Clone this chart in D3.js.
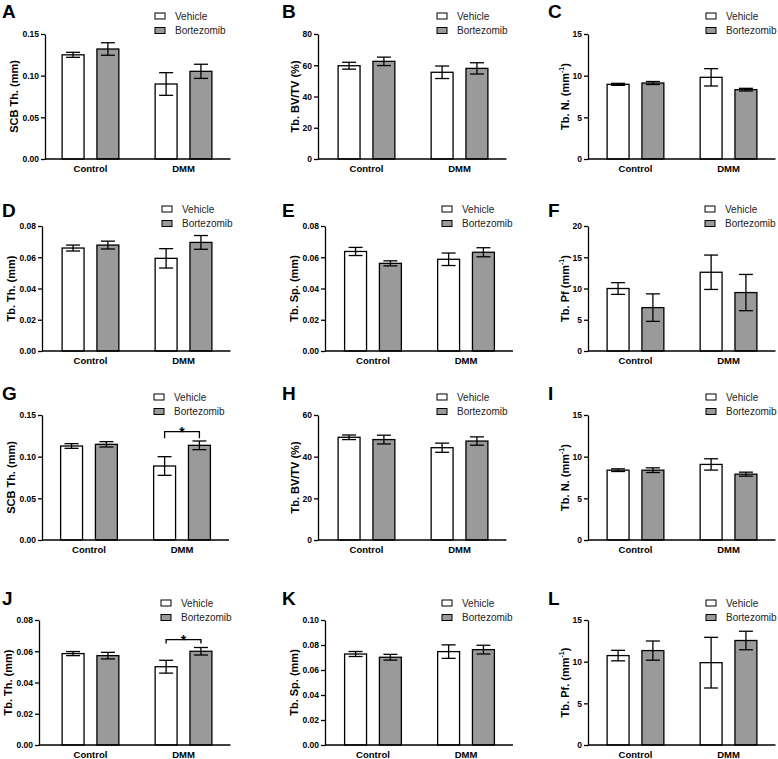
<!DOCTYPE html>
<html>
<head>
<meta charset="utf-8">
<script src="https://cdn.jsdelivr.net/npm/d3@7"></script>
<style>
  body { margin: 0; background: #fff; }
  svg { display: block; font-family: "Liberation Sans", Arial, sans-serif; }
</style>
</head>
<body>
<svg id="chart" width="778" height="759"></svg>
<script>
// data (mean and error bar half-length, [Control, DMM])
var groups = ["Control", "DMM"];
var treatments = ["Vehicle", "Bortezomib"];
var panelLetters = ["A", "B", "C", "D", "E", "F", "G", "H", "I", "J", "K", "L"];
var yLabels = [
  ["SCB Th. (mm)"], ["Tb. BV/TV (%)"], ["Tb. N. (mm", "-1", ")"],
  ["Tb. Th. (mm)"], ["Tb. Sp. (mm)"], ["Tb. Pf (mm", "-1", ")"],
  ["SCB Th. (mm)"], ["Tb. BV/TV (%)"], ["Tb. N. (mm", "-1", ")"],
  ["Tb. Th. (mm)"], ["Tb. Sp. (mm)"], ["Tb. Pf. (mm", "-1", ")"]
];
var yMax = [0.15, 80, 15, 0.08, 0.08, 20, 0.15, 60, 15, 0.08, 0.10, 15];
var yStep = [0.05, 20, 5, 0.02, 0.02, 5, 0.05, 20, 5, 0.02, 0.02, 5];
var yDigits = [2, 0, 0, 2, 2, 0, 2, 0, 0, 2, 2, 0];

var vehicleMeans = [
  [0.125, 0.090], [59.7, 55.5], [8.96, 9.8],
  [0.0659, 0.0593], [0.0637, 0.0587], [10.0, 12.6],
  [0.1128, 0.0888], [49.3, 44.3], [8.38, 9.07],
  [0.0585, 0.0501], [0.0728, 0.0747], [10.73, 9.88]
];
var vehicleErrors = [
  [0.003, 0.0136], [2.2, 4.0], [0.12, 1.04],
  [0.0019, 0.0062], [0.0026, 0.004], [0.94, 2.75],
  [0.0028, 0.0112], [1.1, 2.2], [0.16, 0.68],
  [0.0013, 0.0041], [0.002, 0.0054], [0.63, 3.04]
];
var bortezomibMeans = [
  [0.132, 0.1052], [62.5, 58.0], [9.12, 8.32],
  [0.0678, 0.0695], [0.0561, 0.0632], [6.94, 9.35],
  [0.1148, 0.1136], [48.2, 47.5], [8.38, 7.9],
  [0.0572, 0.060], [0.0702, 0.0763], [11.33, 12.54]
];
var bortezomibErrors = [
  [0.0075, 0.0085], [2.7, 3.6], [0.18, 0.16],
  [0.0025, 0.0044], [0.0016, 0.0029], [2.2, 2.9],
  [0.0032, 0.0052], [2.1, 2.0], [0.28, 0.24],
  [0.0021, 0.0024], [0.0023, 0.0035], [1.15, 1.11]
];
// significance brackets: panel, group, bracket top value, leg bottom value
var sigPanels = ["G", "J"];
var sigGroups = ["DMM", "DMM"];
var sigTop = [0.13, 0.0675];
var sigLeg = [0.122, 0.065];
var sigLabels = ["*", "*"];

// layout
var rowTop = [34, 226, 415, 620];
var plotHeight = 125;
var plotWidth = 187;
var axisLeft = [45, 318, 588, 42, 325, 588, 42, 318, 588, 39, 325, 588];
var plotLeft = [43.5, 319.5, 588.5, 43.5, 326, 588.5, 42, 319.5, 588.5, 43.5, 326, 588.5];
var letterX = [2, 282, 548];
var letterY = [18, 217, 400, 605];
var legendX = [155, 437, 706, 162, 442, 705, 154, 437, 706, 161, 442, 706];
var legendY = [16, 209, 397, 603];
var fills = {"Vehicle": "#ffffff", "Bortezomib": "#9a9a9a"};

var svg = d3.select("#chart");

panelLetters.forEach(function(letter, i) {
  var row = Math.floor(i / 3), col = i % 3;
  var top = rowTop[row], bottom = top + plotHeight;
  var g = svg.append("g").attr("class", "panel-" + letter);

  var y = d3.scaleLinear().domain([0, yMax[i]]).range([bottom, top]);
  var x0 = d3.scaleBand().domain(groups)
    .range([plotLeft[i], plotLeft[i] + plotWidth])
    .paddingInner(0.39).paddingOuter(0.2);
  var x1 = d3.scaleBand().domain(treatments)
    .range([0, x0.bandwidth()]).paddingInner(0.37);

  // bars
  var rows = [];
  groups.forEach(function(grp, gi) {
    rows.push({group: grp, treatment: "Vehicle", mean: vehicleMeans[i][gi], err: vehicleErrors[i][gi]});
    rows.push({group: grp, treatment: "Bortezomib", mean: bortezomibMeans[i][gi], err: bortezomibErrors[i][gi]});
  });
  rows.forEach(function(d) { d.cx = x0(d.group) + x1(d.treatment) + x1.bandwidth() / 2; });

  g.selectAll("rect.bar").data(rows).enter().append("rect")
    .attr("class", "bar")
    .attr("x", function(d) { return x0(d.group) + x1(d.treatment); })
    .attr("y", function(d) { return y(d.mean); })
    .attr("width", x1.bandwidth())
    .attr("height", function(d) { return y(0) - y(d.mean); })
    .attr("fill", function(d) { return fills[d.treatment]; })
    .attr("stroke", "#000").attr("stroke-width", 1.3);

  // error bars
  var eb = g.selectAll("g.err").data(rows).enter().append("g").attr("class", "err")
    .attr("stroke", "#000").attr("stroke-width", 1.3);
  eb.append("line")
    .attr("x1", function(d) { return d.cx; }).attr("x2", function(d) { return d.cx; })
    .attr("y1", function(d) { return y(d.mean - d.err); })
    .attr("y2", function(d) { return y(d.mean + d.err); });
  [-1, 1].forEach(function(s) {
    eb.append("line")
      .attr("x1", function(d) { return d.cx - 7; }).attr("x2", function(d) { return d.cx + 7; })
      .attr("y1", function(d) { return y(d.mean + s * d.err); })
      .attr("y2", function(d) { return y(d.mean + s * d.err); });
  });

  // y axis
  var ticks = d3.range(0, yMax[i] + yStep[i] / 2, yStep[i]);
  var yAxis = g.append("g").attr("transform", "translate(" + axisLeft[i] + ",0)")
    .call(d3.axisLeft(y).tickValues(ticks).tickSize(4).tickSizeOuter(0).tickPadding(2)
      .tickFormat(d3.format("." + yDigits[i] + "f")));
  yAxis.select(".domain").attr("stroke-width", 1.3);
  yAxis.selectAll(".tick line").attr("stroke-width", 1.3);
  yAxis.selectAll(".tick text").attr("font-size", 8.5).attr("font-weight", "bold")
    .attr("font-family", null).attr("fill", "#000").attr("dy", "0.34em");

  var minX = axisLeft[i];
  yAxis.selectAll(".tick text").each(function() {
    var b = this.getBBox();
    minX = Math.min(minX, axisLeft[i] + b.x);
  });

  // x axis line and category labels
  g.append("line")
    .attr("x1", axisLeft[i]).attr("x2", plotLeft[i] + plotWidth)
    .attr("y1", bottom).attr("y2", bottom)
    .attr("stroke", "#000").attr("stroke-width", 1.3);
  g.selectAll("text.cat").data(groups).enter().append("text")
    .attr("class", "cat")
    .attr("x", function(d) { return x0(d) + x0.bandwidth() / 2; })
    .attr("y", bottom + 12.5)
    .attr("text-anchor", "middle").attr("font-size", 9.5).attr("font-weight", "bold")
    .text(function(d) { return d; });

  // y label
  var lab = g.append("text")
    .attr("transform", "translate(" + (minX - 4) + "," + ((top + bottom) / 2) + ") rotate(-90)")
    .attr("text-anchor", "middle").attr("font-size", 11).attr("font-weight", "bold");
  var parts = yLabels[i];
  lab.append("tspan").text(parts[0]);
  if (parts.length > 1) {
    lab.append("tspan").attr("font-size", 7).attr("dy", -4.5).text(parts[1]);
    lab.append("tspan").attr("dy", 4.5).text(parts[2]);
  }

  // panel letter
  g.append("text").attr("x", letterX[col]).attr("y", letterY[row])
    .attr("font-size", 19).attr("font-weight", "bold").text(letter);

  // legend
  treatments.forEach(function(t, ti) {
    var ly = legendY[row] + ti * 14.5;
    g.append("rect").attr("x", legendX[i]).attr("y", ly - 3).attr("width", 10).attr("height", 6)
      .attr("fill", fills[t]).attr("stroke", "#000").attr("stroke-width", 1);
    g.append("text").attr("x", legendX[i] + 20).attr("y", ly + 3.6)
      .attr("font-size", 10).attr("fill", "#222").text(t);
  });

  // significance bracket
  var si = sigPanels.indexOf(letter);
  if (si >= 0) {
    var pair = rows.filter(function(d) { return d.group === sigGroups[si]; });
    var xa = pair[0].cx, xb = pair[1].cx;
    g.append("path")
      .attr("d", "M" + xa + "," + y(sigLeg[si]) + "V" + y(sigTop[si]) + "H" + xb + "V" + y(sigLeg[si]))
      .attr("fill", "none").attr("stroke", "#000").attr("stroke-width", 1.3);
    g.append("text").attr("x", (xa + xb) / 2).attr("y", y(sigTop[si]) + 5)
      .attr("text-anchor", "middle").attr("font-size", 14).attr("font-weight", "bold")
      .text(sigLabels[si]);
  }
});
</script>
</body>
</html>
